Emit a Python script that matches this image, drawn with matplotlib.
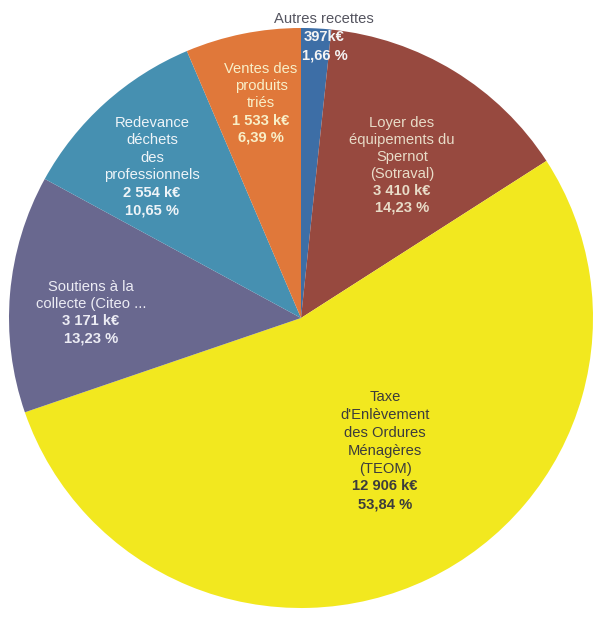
import matplotlib
matplotlib.use("Agg")
import matplotlib.pyplot as plt

# Revenue breakdown (k€), clockwise from the top
categories = [
    "Autres recettes",
    "Loyer des\néquipements du\nSpernot\n(Sotraval)",
    "Taxe\nd'Enlèvement\ndes Ordures\nMénagères\n(TEOM)",
    "Soutiens à la\ncollecte (Citeo ...",
    "Redevance\ndéchets\ndes\nprofessionnels",
    "Ventes des\nproduits\ntriés",
]
amounts_keur = ["397k€", "3 410 k€", "12 906 k€", "3 171 k€", "2 554 k€", "1 533 k€"]
shares_pct = [1.66, 14.23, 53.84, 13.23, 10.65, 6.39]
colors = ["#3d6ea6", "#97493f", "#f2e81f", "#69688f", "#4690b1", "#e0783a"]
text_colors = ["#f4f4f4", "#e8dcc8", "#3c3c3c", "#ececf4", "#eef4f8", "#f8efc8"]

plt.rcParams["font.family"] = ["Liberation Sans", "DejaVu Sans"]

W, H = 594, 620
fig = plt.figure(figsize=(W / 100, H / 100), dpi=100)
fig.patch.set_facecolor("white")

cx, cy, rx, ry = 301, 318, 292, 290
ax = fig.add_axes([(cx - rx) / W, (H - cy - ry) / H, 2 * rx / W, 2 * ry / H])
ax.pie(shares_pct, colors=colors, startangle=90, counterclock=False,
       radius=1.0, wedgeprops=dict(linewidth=0))
ax.set_aspect("auto")
ax.set_xlim(-1, 1)
ax.set_ylim(-1, 1)
ax.axis("off")


def fmt_pct(v):
    return f"{v:.2f}".replace(".", ",") + " %"


# label placement: (centre x, first line y, line step) in pixels
anchors = {
    1: (402, 123, 17.0),
    2: (385, 397, 17.9),
    3: (91, 287, 17.2),
    4: (152, 123, 17.5),
    5: (261, 69, 17.2),
}
fs = 10.6
for i, (x, y0, step) in anchors.items():
    lines = categories[i].split("\n")
    for k, line in enumerate(lines):
        fig.text(x / W, 1 - (y0 + k * step) / H, line, ha="center", va="center",
                 fontsize=fs, color=text_colors[i])
    n = len(lines)
    fig.text(x / W, 1 - (y0 + n * step) / H, amounts_keur[i], ha="center",
             va="center", fontsize=fs, fontweight="bold", color=text_colors[i])
    fig.text(x / W, 1 - (y0 + (n + 1) * step) / H, fmt_pct(shares_pct[i]),
             ha="center", va="center", fontsize=fs, fontweight="bold",
             color=text_colors[i])

# small slice: title above the pie, values inside
fig.text(324 / W, 1 - 19 / H, categories[0], ha="center", va="center",
         fontsize=fs, color="#555560")
fig.text(324 / W, 1 - 37 / H, amounts_keur[0], ha="center", va="center",
         fontsize=fs, fontweight="bold", color=text_colors[0])
fig.text(325 / W, 1 - 55 / H, fmt_pct(shares_pct[0]), ha="center", va="center",
         fontsize=fs, fontweight="bold", color=text_colors[0])

fig.savefig("out.png", dpi=100, facecolor="white")
